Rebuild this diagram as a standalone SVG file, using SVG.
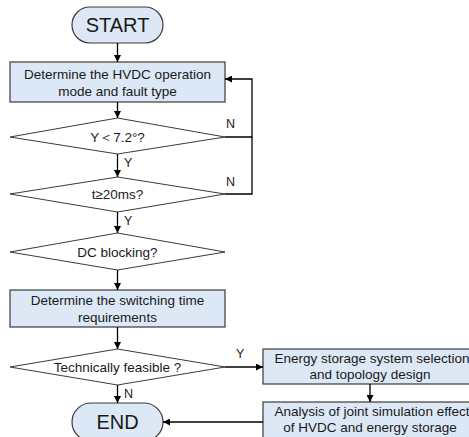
<svg xmlns="http://www.w3.org/2000/svg" width="469" height="437" viewBox="0 0 469 437">
<style>
.n{fill:#dce8f5;stroke:#3a3a3a;stroke-width:1.2}
.d{fill:#ffffff;stroke:#3a3a3a;stroke-width:1}
.t{font-family:"Liberation Sans","DejaVu Sans",sans-serif;font-size:13.5px;fill:#1a1a1a;text-anchor:middle}
.big{font-size:20px}
.l{font-family:"Liberation Sans",sans-serif;font-size:12.5px;fill:#1a1a1a}
.c{fill:none;stroke:#000;stroke-width:1.3}
</style>
<defs>
<marker id="a" viewBox="0 0 10 10" refX="10" refY="5" markerWidth="7" markerHeight="7" orient="auto" markerUnits="userSpaceOnUse">
<path d="M0,0 L10,5 L0,10 z" fill="#000"/>
</marker>
</defs>
<rect width="469" height="437" fill="#fff"/>
<g id="start"><rect class="n" x="72" y="7" width="91" height="36" rx="18"/><text class="t big" x="117.5" y="32">START</text></g>
<g id="box1"><rect class="n" x="10" y="62" width="215" height="40"/><text class="t" x="117.5" y="79">Determine the HVDC operation</text><text class="t" x="117.5" y="96">mode and fault type</text></g>
<g id="dia1"><polygon class="d" points="10,137 117.5,118 225,137 117.5,154"/><text class="t" x="117.5" y="142">Υ＜7.2°?</text></g>
<g id="dia2"><polygon class="d" points="10,194 117.5,177 225,194 117.5,212"/><text class="t" x="117.5" y="199">t≥20ms?</text></g>
<g id="dia3"><polygon class="d" points="10,252 117.5,233 225,252 117.5,270"/><text class="t" x="117.5" y="257">DC blocking?</text></g>
<g id="box2"><rect class="n" x="10" y="290" width="215" height="37"/><text class="t" x="117.5" y="305">Determine the switching time</text><text class="t" x="117.5" y="322">requirements</text></g>
<g id="dia4"><polygon class="d" points="10,367 117.5,349 225,367 117.5,385"/><text class="t" x="117.5" y="372">Technically feasible ?</text></g>
<g id="end"><rect class="n" x="72" y="403" width="91" height="38" rx="19"/><text class="t big" x="117.5" y="429">END</text></g>
<g id="box3"><rect class="n" x="263" y="349" width="214" height="35"/><text class="t" x="372" y="363">Energy storage system selection</text><text class="t" x="370" y="379">and topology design</text></g>
<g id="box4"><rect class="n" x="263" y="402" width="214" height="40"/><text class="t" x="372" y="416">Analysis of joint simulation effect</text><text class="t" x="370" y="432">of HVDC and energy storage</text></g>
<g id="connectors">
<line class="c" x1="117.5" y1="43" x2="117.5" y2="62" marker-end="url(#a)"/>
<line class="c" x1="117.5" y1="102" x2="117.5" y2="118" marker-end="url(#a)"/>
<line class="c" x1="117.5" y1="154" x2="117.5" y2="177" marker-end="url(#a)"/>
<line class="c" x1="117.5" y1="212" x2="117.5" y2="233" marker-end="url(#a)"/>
<line class="c" x1="117.5" y1="270" x2="117.5" y2="290" marker-end="url(#a)"/>
<line class="c" x1="117.5" y1="327" x2="117.5" y2="349" marker-end="url(#a)"/>
<line class="c" x1="117.5" y1="385" x2="117.5" y2="403" marker-end="url(#a)"/>
<polyline class="c" points="225,137 252,137 252,79 225,79" marker-end="url(#a)"/>
<polyline class="c" points="225,194 252,194 252,137"/>
<line class="c" x1="225" y1="367" x2="263" y2="367" marker-end="url(#a)"/>
<line class="c" x1="370" y1="384" x2="370" y2="402" marker-end="url(#a)"/>
<line class="c" x1="263" y1="422" x2="163" y2="422" marker-end="url(#a)"/>
<text class="l" x="226" y="128">N</text>
<text class="l" x="226" y="186">N</text>
<text class="l" x="124" y="167">Y</text>
<text class="l" x="124" y="225">Y</text>
<text class="l" x="236" y="358">Y</text>
<text class="l" x="124" y="398">N</text>
</g>
</svg>
